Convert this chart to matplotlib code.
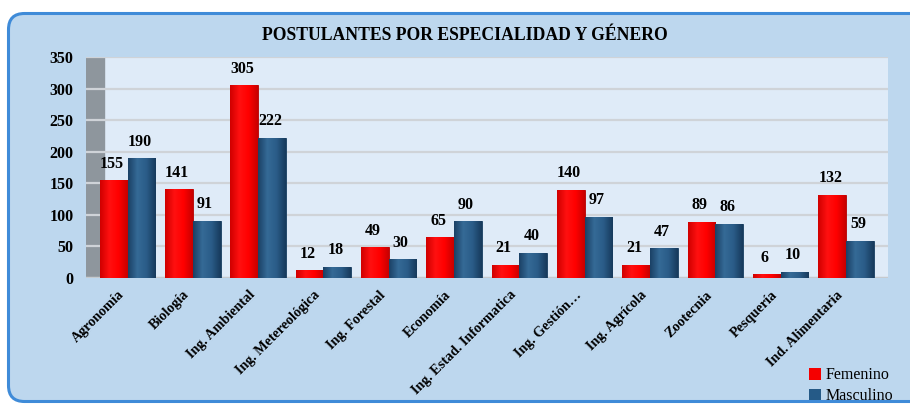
import matplotlib
matplotlib.use('Agg')
import matplotlib.pyplot as plt
import matplotlib.transforms as mtransforms
import numpy as np
from matplotlib.colors import LinearSegmentedColormap
from matplotlib.patches import FancyBboxPatch, Patch

# data
especialidades = ['Agronomía', 'Biología', 'Ing. Ambiental', 'Ing. Metereológica',
                  'Ing. Forestal', 'Economía', 'Ing. Estad. Informatica', 'Ing. Gestión…',
                  'Ing. Agrícola', 'Zootecnia', 'Pesquería', 'Ind. Alimentaria']
femenino = [155, 141, 305, 12, 49, 65, 21, 140, 21, 89, 6, 132]
masculino = [190, 91, 222, 18, 30, 90, 40, 97, 47, 86, 10, 59]
y_ticks = [0, 50, 100, 150, 200, 250, 300, 350]

plt.rcParams['font.family'] = ['Liberation Serif', 'DejaVu Serif']

W, H = 910, 404
fig = plt.figure(figsize=(W / 100, H / 100), dpi=100)
fig.patch.set_facecolor('white')

# rounded light blue panel behind everything
box = FancyBboxPatch((0.085, 0.025), 9.5, 3.88,
                     boxstyle='round,pad=0,rounding_size=0.16',
                     transform=fig.dpi_scale_trans, facecolor='#BDD7EE',
                     edgecolor='#3F8BD8', linewidth=2.2, zorder=-5)
fig.patches.append(box)

ax = fig.add_axes([86 / W, (H - 278) / H, (888 - 86) / W, (278 - 57) / H])
ax.set_facecolor('#DFEBF8')

x = np.arange(len(especialidades))
left = -0.636

# gray side wall
ax.axvspan(left, -0.36, color='#8E969D', zorder=0.5)

for t in y_ticks[1:]:
    ax.axhline(t, color='#CFD3D8', lw=1.6, zorder=1)
ax.axhline(0, color='#C6CACE', lw=2.5, zorder=1)

w = 0.424
b1 = ax.bar(x - w / 2, femenino, w, color='#F50000', edgecolor='#B40000',
            linewidth=0.6, zorder=3)
b2 = ax.bar(x + w / 2, masculino, w, color='#255A87', edgecolor='#173C5E',
            linewidth=0.6, zorder=3)

# horizontal gradient inside the bars
red_cm = LinearSegmentedColormap.from_list('r', ['#D00000', '#FF1010', '#FF0000', '#C80000'])
blue_cm = LinearSegmentedColormap.from_list('b', ['#1B4166', '#356A96', '#2A5C88', '#173A5C'])
grad = np.linspace(0, 1, 64).reshape(1, -1)
for bars, cm in [(b1, red_cm), (b2, blue_cm)]:
    for r in bars:
        x0, h = r.get_x(), r.get_height()
        im = ax.imshow(grad, extent=[x0, x0 + r.get_width(), 0, h], aspect='auto',
                       cmap=cm, zorder=3.5, interpolation='bilinear')
        im.set_clip_path(r)

for bars, vals in [(b1, femenino), (b2, masculino)]:
    for r, v in zip(bars, vals):
        ax.annotate(str(v), (r.get_x() + r.get_width() / 2 - 0.03, v),
                    xytext=(0, 6), textcoords='offset points',
                    ha='center', va='bottom', fontsize=11.5, fontweight='bold')

ax.set_xlim(left, 11.643)
ax.set_ylim(0, 350)

ax.set_yticks(y_ticks)
ax.set_yticklabels([str(t) for t in y_ticks], fontsize=11.5, fontweight='bold')
ax.set_xticks(x)
ax.tick_params(length=0)
ax.tick_params(axis='y', pad=9)
ax.tick_params(axis='x', pad=6)
ax.set_xticklabels(especialidades, rotation=45, ha='right', va='top',
                   rotation_mode='anchor', fontsize=10.2, fontweight='bold')
# nudge the slanted labels left, like the original
shift = mtransforms.ScaledTranslation(-10 / 100, -2 / 100, fig.dpi_scale_trans)
for lab in ax.get_xticklabels():
    lab.set_transform(lab.get_transform() + shift)
for s in ax.spines.values():
    s.set_visible(False)

fig.text(465 / W, (H - 35) / H, 'POSTULANTES POR ESPECIALIDAD Y GÉNERO',
         ha='center', va='center', fontsize=12.7, fontweight='bold')

handles = [Patch(facecolor='#F50000'), Patch(facecolor='#255A87')]
fig.legend(handles, ['Femenino', 'Masculino'], loc='lower right',
           bbox_to_anchor=(903 / W, -0.024), frameon=False, fontsize=11.5,
           handlelength=0.75, handleheight=0.75, handletextpad=0.3,
           labelspacing=0.3, borderaxespad=0.2)

fig.savefig('out.png', dpi=100)
